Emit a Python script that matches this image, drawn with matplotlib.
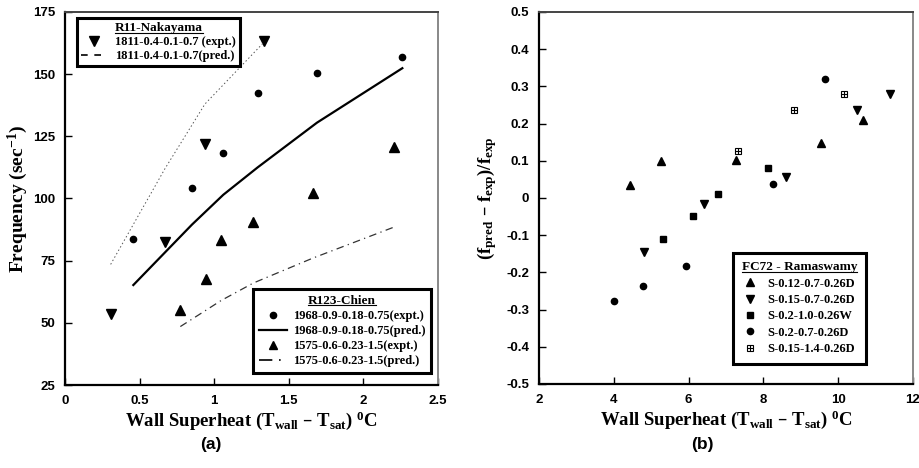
import matplotlib
matplotlib.use('Agg')
import matplotlib.pyplot as plt
from matplotlib.lines import Line2D
from matplotlib.legend_handler import HandlerTuple

plt.rcParams['mathtext.default'] = 'regular'

# --- panel (a): frequency vs wall superheat
nak_x = [0.306, 0.670, 0.938, 1.336]
nak_exp = [53.6, 82.4, 122.0, 163.5]
nak_pred = [73.5, 112.0, 138.0, 163.0]

r1968_x = [0.458, 0.851, 1.061, 1.291, 1.689, 2.261]
r1968_exp = [83.7, 104.1, 118.4, 142.6, 150.6, 156.8]
r1968_pred = [65.2, 89.5, 101.5, 112.5, 130.5, 152.4]

r1575_x = [0.773, 0.943, 1.047, 1.262, 1.660, 2.205]
r1575_exp = [55.2, 67.6, 83.3, 90.7, 102.1, 120.8]
r1575_pred = [48.5, 55.0, 59.0, 66.0, 76.0, 88.5]

# --- panel (b): relative error, FC72 - Ramaswamy
s012_x = [4.42, 5.27, 7.27, 9.54, 10.65]
s012_y = [0.035, 0.100, 0.101, 0.149, 0.210]
s015_x = [4.80, 6.41, 8.60, 10.49, 11.39]
s015_y = [-0.145, -0.017, 0.057, 0.237, 0.279]
s02w_x = [5.31, 6.13, 6.78, 8.13]
s02w_y = [-0.111, -0.048, 0.010, 0.080]
s02d_x = [4.01, 4.77, 5.94, 8.26, 9.66]
s02d_y = [-0.278, -0.236, -0.183, 0.037, 0.321]
s14_x = [7.33, 8.83, 10.16]
s14_y = [0.126, 0.236, 0.279]

serif_b = {'family': 'Liberation Serif', 'weight': 'bold'}
sans_b = {'family': 'Liberation Sans', 'weight': 'bold'}

fig = plt.figure(figsize=(9.2, 4.68), dpi=100)
W, H = 920, 468


def px_axes(l, t, r, b):
    return fig.add_axes([l / W, 1 - b / H, (r - l) / W, (b - t) / H])


def style_axes(ax):
    ax.tick_params(direction='in', length=5, width=1, pad=7, labelsize=9.5)
    for lab in ax.get_xticklabels() + ax.get_yticklabels():
        lab.set_fontfamily('Liberation Sans')
        lab.set_fontweight('bold')
    ax.spines['left'].set_linewidth(1.6)
    ax.spines['bottom'].set_linewidth(1.6)
    ax.spines['top'].set_linewidth(1.4)
    ax.spines['top'].set_color('#444444')
    ax.spines['right'].set_linewidth(1.4)
    ax.spines['right'].set_color('#888888')


def frame_legend(leg):
    fr = leg.get_frame()
    fr.set_edgecolor('black')
    fr.set_linewidth(2.2)
    fr.set_alpha(None)
    leg.get_title().set_fontproperties(serif_b)
    leg.get_title().set_fontsize(9.5)
    for t in leg.get_texts():
        t.set_fontfamily('Liberation Serif')
        t.set_fontweight('bold')


# ---------------- panel (a)
ax1 = px_axes(65, 12, 438, 385)
ax1.plot(nak_x, nak_exp, 'kv', ms=6.5, ls='none')
ax1.plot(nak_x, nak_pred, color='#555555', lw=0.7, dashes=(1.5, 2.5))
ax1.plot(r1968_x, r1968_exp, 'ko', ms=4.5, ls='none')
ax1.plot(r1968_x, r1968_pred, color='black', lw=1.6)
ax1.plot(r1575_x, r1575_exp, 'k^', ms=6.5, ls='none')
ax1.plot(r1575_x, r1575_pred, color='#333333', lw=0.9, dashes=(6, 3.5, 1, 3.5))

ax1.set_xlim(0, 2.5)
ax1.set_ylim(25, 175)
ax1.set_xticks([0, 0.5, 1, 1.5, 2, 2.5])
ax1.set_xticklabels(['0', '0.5', '1', '1.5', '2', '2.5'])
ax1.set_yticks([25, 50, 75, 100, 125, 150, 175])
style_axes(ax1)
ax1.set_xlabel('Wall Superheat (T$_{wall}$ – T$_{sat}$) $^{0}$C', fontdict=serif_b, fontsize=13.5, labelpad=2)
ax1.set_ylabel('Frequency (sec$^{-1}$)', fontdict=serif_b, fontsize=14, labelpad=2)

h_nak_e = Line2D([], [], color='k', marker='v', ms=6.5, ls='none')
h_nak_p = Line2D([], [], color='k', lw=1.2, dashes=(4, 4))
leg1 = ax1.legend([h_nak_e, h_nak_p],
                  ['1811-0.4-0.1-0.7 (expt.)', '1811-0.4-0.1-0.7(pred.)'],
                  title='R11-Nakayama', loc='upper left', bbox_to_anchor=(0.032, 0.984),
                  borderaxespad=0, fancybox=False, fontsize=9, handlelength=2.0,
                  handletextpad=0.7, borderpad=0.35, labelspacing=0.15)
frame_legend(leg1)
ax1.add_artist(leg1)

h_c_e = Line2D([], [], color='k', marker='o', ms=4.5, ls='none')
h_c_p = Line2D([], [], color='k', lw=1.6)
h_t_e = Line2D([], [], color='k', marker='^', ms=6, ls='none')
h_t_p = Line2D([], [], color='k', lw=1.2, dashes=(8, 4, 1, 4))
leg2 = ax1.legend([h_c_e, h_c_p, h_t_e, h_t_p],
                  ['1968-0.9-0.18-0.75(expt.)', '1968-0.9-0.18-0.75(pred.)',
                   '1575-0.6-0.23-1.5(expt.)', '1575-0.6-0.23-1.5(pred.)'],
                  title='R123-Chien', loc='lower right', bbox_to_anchor=(0.981, 0.032),
                  borderaxespad=0, fancybox=False, fontsize=9, handlelength=2.2,
                  handletextpad=0.5, borderpad=0.45, labelspacing=0.25)
frame_legend(leg2)

# ---------------- panel (b)
ax2 = px_axes(539, 12, 913, 384)
ax2.plot(s012_x, s012_y, 'k^', ms=5.5, ls='none')
ax2.plot(s015_x, s015_y, 'kv', ms=6, ls='none')
ax2.plot(s02w_x, s02w_y, 'ks', ms=4.2, ls='none')
ax2.plot(s02d_x, s02d_y, 'ko', ms=4.5, ls='none')
ax2.plot(s14_x, s14_y, 's', ms=5, mfc='white', mec='black', mew=0.8, ls='none')
ax2.plot(s14_x, s14_y, '+', ms=5, mec='black', mew=0.8, ls='none')

ax2.set_xlim(2, 12)
ax2.set_ylim(-0.5, 0.5)
ax2.set_xticks([2, 4, 6, 8, 10, 12])
ax2.set_yticks([-0.5, -0.4, -0.3, -0.2, -0.1, 0, 0.1, 0.2, 0.3, 0.4, 0.5])
ax2.set_yticklabels(['-0.5', '-0.4', '-0.3', '-0.2', '-0.1', '0', '0.1', '0.2', '0.3', '0.4', '0.5'])
style_axes(ax2)
ax2.set_xlabel('Wall Superheat (T$_{wall}$ – T$_{sat}$) $^{0}$C', fontdict=serif_b, fontsize=13.5, labelpad=2)
ax2.set_ylabel('(f$_{pred}$ – f$_{exp}$)/f$_{exp}$', fontdict=serif_b, fontsize=13.5, labelpad=5)

hb1 = Line2D([], [], color='k', marker='^', ms=5.5, ls='none')
hb2 = Line2D([], [], color='k', marker='v', ms=5.5, ls='none')
hb3 = Line2D([], [], color='k', marker='s', ms=4.2, ls='none')
hb4 = Line2D([], [], color='k', marker='o', ms=4.5, ls='none')
hb5a = Line2D([], [], marker='s', ms=5, mfc='white', mec='black', mew=0.8, ls='none')
hb5b = Line2D([], [], marker='+', ms=5, mec='black', mew=0.8, ls='none')
leg3 = ax2.legend([hb1, hb2, hb3, hb4, (hb5a, hb5b)],
                  ['S-0.12-0.7-0.26D', 'S-0.15-0.7-0.26D', 'S-0.2-1.0-0.26W',
                   'S-0.2-0.7-0.26D', 'S-0.15-1.4-0.26D'],
                  handler_map={tuple: HandlerTuple(ndivide=None, pad=-1.0)},
                  title='FC72 - Ramaswamy', loc='lower right', bbox_to_anchor=(0.874, 0.054),
                  borderaxespad=0, fancybox=False, fontsize=9, handlelength=1.0,
                  handletextpad=0.9, borderpad=0.7, labelspacing=0.35)
frame_legend(leg3)

fig.text(211 / W, 1 - 445 / H, '(a)', fontdict=sans_b, fontsize=12.5, ha='center', va='center')
fig.text(702 / W, 1 - 445 / H, '(b)', fontdict=sans_b, fontsize=12.5, ha='center', va='center')

# underline the legend titles
fig.canvas.draw()
inv = fig.transFigure.inverted()
for leg in (leg1, leg2, leg3):
    bb = leg.get_title().get_window_extent()
    (x0, y0), (x1, _) = inv.transform([(bb.x0, bb.y0 + 1.5), (bb.x1, bb.y0 + 1.5)])
    fig.add_artist(Line2D([x0, x1], [y0, y0], color='black', lw=0.8, transform=fig.transFigure))

fig.savefig('out.png', dpi=100)
